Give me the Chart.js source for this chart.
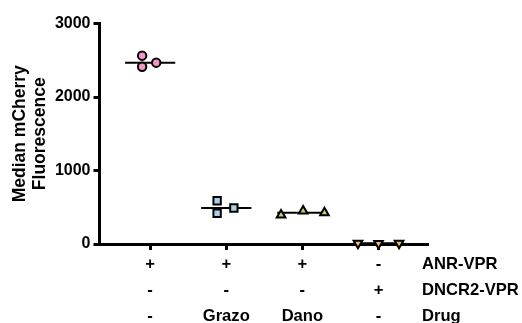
<!DOCTYPE html>
<html>
<head>
<meta charset="utf-8">
<script src="https://cdn.jsdelivr.net/npm/chart.js@4.4.0/dist/chart.umd.min.js"></script>
<style>
  html, body { margin: 0; padding: 0; background: #fff; }
  canvas { display: block; }
</style>
</head>
<body>
<canvas id="chart" width="522" height="323"></canvas>
<script>
// Conditions (one column per group) and the table printed under the axis
const groups = [1, 2, 3, 4];
const anrVpr   = ['+', '+', '+', '-'];
const dncr2Vpr = ['-', '-', '-', '+'];
const drug     = ['-', 'Grazo', 'Dano', '-'];
const rowNames = ['ANR-VPR', 'DNCR2-VPR', 'Drug'];
const yTicks   = [0, 1000, 2000, 3000];

// Median mCherry fluorescence, three replicates per condition
const anrNoDrug   = [2562, 2412, 2467];
const anrGrazo    = [589, 418, 490];
const anrDano     = [395, 449, 426];
const dncr2NoDrug = [10, 8, 10];

// Horizontal scatter of the replicate dots inside each column
const spread = [
  [-0.105, -0.105, 0.08],
  [-0.12, -0.12, 0.10],
  [-0.28, 0.01, 0.29],
  [-0.27, 0.0, 0.27]
];

const FONT = '"Liberation Sans", Arial, Helvetica, sans-serif';
const series = [anrNoDrug, anrGrazo, anrDano, dncr2NoDrug];
const styles = [
  { shape: 'circle',   color: '#f495c3', radius: 4.2, rotation: 0 },
  { shape: 'rect',     color: '#a9d3ea', radius: 5.2, rotation: 0 },
  { shape: 'triangle', color: '#b4d66e', radius: 5,   rotation: 0 },
  { shape: 'triangle', color: '#f7bd67', radius: 5,   rotation: 180 }
];

function median(arr) {
  const s = [...arr].sort((a, b) => a - b);
  return s[Math.floor(s.length / 2)];
}

const datasets = [];
series.forEach((vals, g) => {
  const st = styles[g];
  const med = median(vals);
  datasets.push({
    type: 'line',
    data: [{ x: groups[g] - 0.33, y: med }, { x: groups[g] + 0.33, y: med }],
    borderColor: '#000',
    borderWidth: 2,
    pointRadius: 0,
    clip: false,
    order: 2
  });
  datasets.push({
    type: 'scatter',
    data: vals.map((v, i) => ({ x: groups[g] + spread[g][i], y: v })),
    pointStyle: st.shape,
    pointRadius: st.radius,
    pointRotation: st.rotation,
    backgroundColor: st.color,
    borderColor: '#000',
    borderWidth: 2,
    clip: false,
    order: 1
  });
});

// Condition table below the x axis
const tablePlugin = {
  id: 'conditionTable',
  afterDraw(chart) {
    const ctx = chart.ctx;
    const xs = chart.scales.x;
    const area = chart.chartArea;
    const rows = [anrVpr, dncr2Vpr, drug];
    ctx.save();
    ctx.fillStyle = '#000';
    ctx.font = 'bold 16.6px ' + FONT;
    ctx.textBaseline = 'middle';
    rows.forEach((row, r) => {
      const y = area.bottom + 20 + r * 26;
      ctx.textAlign = 'center';
      row.forEach((txt, i) => ctx.fillText(txt, xs.getPixelForValue(groups[i]), y));
      ctx.textAlign = 'left';
      ctx.fillText(rowNames[r], area.right - 6, y);
    });
    ctx.restore();
  }
};

new Chart(document.getElementById('chart'), {
  type: 'scatter',
  data: { datasets },
  plugins: [tablePlugin],
  options: {
    responsive: false,
    animation: false,
    devicePixelRatio: 1,
    layout: { padding: { left: 6, right: 94, top: 23.5, bottom: 73 } },
    plugins: { legend: { display: false }, tooltip: { enabled: false } },
    scales: {
      x: {
        type: 'linear',
        min: 0.335,
        max: 4.65,
        afterBuildTicks: s => { s.ticks = groups.map(v => ({ value: v })); },
        ticks: { display: false },
        grid: { drawOnChartArea: false, tickLength: 6, tickWidth: 3, tickColor: '#000' },
        border: { color: '#000', width: 3 }
      },
      y: {
        min: 0,
        max: 3000,
        afterBuildTicks: s => { s.ticks = yTicks.map(v => ({ value: v })); },
        ticks: {
          color: '#000',
          font: { family: FONT, size: 16, weight: 'bold' },
          padding: 3,
          callback: v => String(v)
        },
        grid: { drawOnChartArea: false, tickLength: 6, tickWidth: 3, tickColor: '#000' },
        border: { color: '#000', width: 3 },
        title: {
          display: true,
          text: ['Median mCherry', 'Fluorescence'],
          color: '#000',
          font: { family: FONT, size: 17.5, weight: 'bold', lineHeight: 1.14 },
          padding: { top: 4, bottom: 2 }
        }
      }
    }
  }
});
</script>
</body>
</html>
